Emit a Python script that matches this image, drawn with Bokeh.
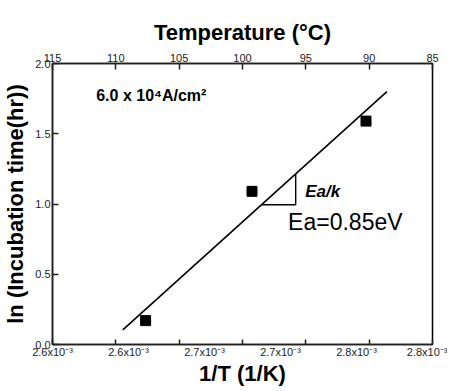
import numpy as np
from bokeh.plotting import figure
from bokeh.models import Range1d, LinearAxis, FixedTicker, Label
from bokeh.embed import file_html
from bokeh.resources import INLINE

# ---- data ----
inv_T = [2.649e-3, 2.705e-3, 2.765e-3]          # 1/T (1/K)
ln_time = [0.17, 1.09, 1.59]                     # ln(incubation time (hr))
fit_x_ends = [2.637e-3, 2.776e-3]                # extent of fitted line
tri_x = [2.710e-3, 2.728e-3]                     # slope triangle x-extent

x_label_ticks = [0.00260, 0.00264, 0.00268, 0.00272, 0.00276, 0.00280]
x_label_texts = ["2.6x10⁻³", "2.6x10⁻³", "2.7x10⁻³", "2.7x10⁻³", "2.8x10⁻³", "2.8x10⁻³"]
x_minor_ticks = [0.0026, 0.0026333, 0.0026667, 0.0027, 0.0027333, 0.0027667, 0.0028]
y_ticks = [0.0, 0.5, 1.0, 1.5, 2.0]
y_tick_texts = ["0.0", "0.5", "1.0", "1.5", "2.0"]
temp_ticks = [115, 110, 105, 100, 95, 90, 85]

FONT = "Liberation Sans"

p = figure(frame_width=380, frame_height=281,
           x_range=Range1d(0.0026, 0.0028), y_range=Range1d(0.0, 2.0),
           x_axis_location=None, y_axis_location=None,
           output_backend="svg", toolbar_location=None,
           min_border_left=47, min_border_right=15,
           min_border_top=63, min_border_bottom=30)
p.grid.visible = False
p.outline_line_color = "black"
p.outline_line_width = 1.5
p.background_fill_color = "white"
p.border_fill_color = "white"

p.extra_x_ranges = {"temp": Range1d(115, 85)}

def style(ax, label_size="11px"):
    ax.axis_line_color = "#222222"
    ax.axis_line_width = 1.5
    ax.major_tick_line_color = "#222222"
    ax.major_tick_line_width = 1.5
    ax.minor_tick_line_color = "#222222"
    ax.minor_tick_line_width = 1.5
    ax.major_label_text_font = FONT
    ax.major_label_text_font_size = label_size
    ax.major_label_text_color = "#222222"
    ax.axis_label_text_font = FONT
    ax.axis_label_text_font_size = "22px"
    ax.axis_label_text_font_style = "bold"
    ax.axis_label_text_color = "black"

# bottom axis
xb = LinearAxis(ticker=FixedTicker(ticks=x_label_ticks, minor_ticks=x_minor_ticks),
                axis_label="1/T (1/K)",
                major_label_overrides={t: s for t, s in zip(x_label_ticks, x_label_texts)})
style(xb)
xb.major_tick_in = 0
xb.major_tick_out = 0
xb.minor_tick_in = 5
xb.minor_tick_out = 0
xb.major_label_standoff = 1
xb.axis_label_standoff = 0
p.add_layout(xb, "below")

# left axis
yl = LinearAxis(ticker=FixedTicker(ticks=y_ticks, minor_ticks=[]),
                axis_label="ln (Incubation time(hr))",
                major_label_overrides={t: s for t, s in zip(y_ticks, y_tick_texts)})
style(yl)
yl.major_tick_in = 6
yl.major_tick_out = 0
yl.major_label_standoff = 2
yl.axis_label_standoff = 4
p.add_layout(yl, "left")

# top axis (temperature)
xt = LinearAxis(x_range_name="temp", ticker=FixedTicker(ticks=temp_ticks, minor_ticks=[]),
                axis_label="Temperature (°C)")
style(xt)
xt.major_tick_in = 6
xt.major_tick_out = 0
xt.major_label_standoff = 2
xt.axis_label_standoff = 6
p.add_layout(xt, "above")

# fitted line (least squares)
slope, intercept = np.polyfit(inv_T, ln_time, 1)
fx = np.array(fit_x_ends)
p.line(fx, slope * fx + intercept, line_color="black", line_width=1.6)

# slope triangle
tx = np.array(tri_x)
ty = slope * tx + intercept
p.line([tx[0], tx[1], tx[1]], [ty[0], ty[0], ty[1]], line_color="black", line_width=1.4)

# data points
p.scatter(inv_T, ln_time, marker="square", size=10, fill_color="black", line_color="black")

# annotations
p.add_layout(Label(x=0.002623, y=1.77, text="6.0 x 10⁴A/cm²", text_font=FONT,
                   text_font_size="16px", text_font_style="bold", text_baseline="middle",
                   text_color="black"))
p.add_layout(Label(x=0.002733, y=1.09, text="Ea/k", text_font=FONT,
                   text_font_size="17px", text_font_style="bold italic", text_baseline="middle",
                   text_color="black"))
p.add_layout(Label(x=0.002724, y=0.875, text="Ea=0.85eV", text_font=FONT,
                   text_font_size="23px", text_baseline="middle", text_color="black"))

open("out.html", "w").write(file_html(p, INLINE))
